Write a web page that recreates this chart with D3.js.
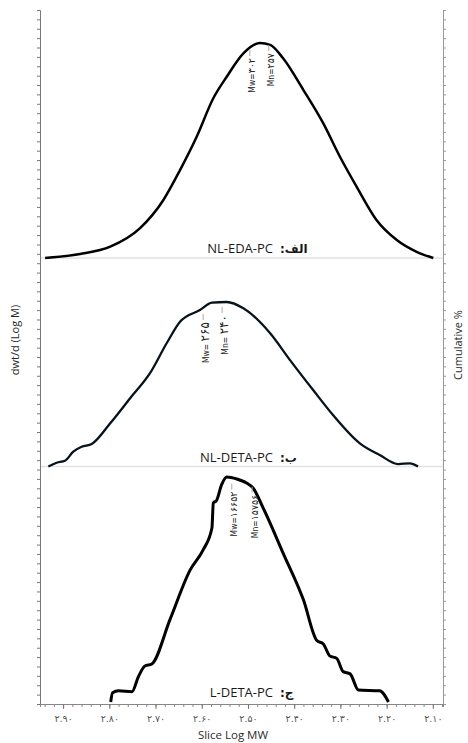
<!DOCTYPE html>
<html>
<head>
<meta charset="utf-8">
<script src="https://cdn.jsdelivr.net/npm/d3@7"></script>
<style>
body { margin: 0; background: #fff; }
text { font-family: "Open Sans", "DejaVu Sans", sans-serif; }
</style>
</head>
<body>
<div id="chart"></div>
<script>
const ctx = {
    W: 468,
    H: 743,
    LEFT: 40,
    RIGHT: 443,
    TOP: 10,
    BOTTOM: 704,
};

// x axis (Log M, runs from high to low)
const xTicks = [2.9, 2.8, 2.7, 2.6, 2.5, 2.4, 2.3, 2.2, 2.1];
const xTickLabels = ["۲.۹۰", "۲.۸۰", "۲.۷۰", "۲.۶۰", "۲.۵۰", "۲.۴۰", "۲.۳۰", "۲.۲۰", "۲.۱۰"];

// curves: [log M, height relative to the peak]
const edaCurve = [
    [2.939, 0.0], [2.863, 0.019], [2.798, 0.053], [2.734, 0.138], [2.683, 0.27],
    [2.647, 0.409], [2.611, 0.564], [2.575, 0.743], [2.546, 0.843], [2.510, 0.952],
    [2.474, 1.0], [2.452, 0.991], [2.424, 0.929], [2.380, 0.781], [2.337, 0.626],
    [2.301, 0.471], [2.265, 0.332], [2.222, 0.177], [2.178, 0.084], [2.135, 0.029],
    [2.099, 0.0]
];
const detaCurve = [
    [2.932, 0.0], [2.914, 0.023], [2.896, 0.035], [2.878, 0.09], [2.860, 0.12],
    [2.838, 0.137], [2.798, 0.263], [2.755, 0.415], [2.712, 0.567], [2.676, 0.749],
    [2.647, 0.88], [2.604, 0.951], [2.578, 0.996], [2.546, 1.0], [2.510, 0.962],
    [2.452, 0.81], [2.409, 0.647], [2.359, 0.465], [2.316, 0.313], [2.258, 0.141],
    [2.215, 0.07], [2.175, 0.015], [2.150, 0.019], [2.132, 0.0]
];
const lDetaCurve = [
    [2.797, 0.0], [2.793, 0.041], [2.780, 0.05], [2.751, 0.046], [2.737, 0.113],
    [2.723, 0.16], [2.708, 0.169], [2.669, 0.365], [2.625, 0.587], [2.597, 0.676],
    [2.578, 0.773], [2.575, 0.884], [2.568, 0.896], [2.557, 0.966], [2.546, 1.0],
    [2.524, 0.991], [2.503, 0.973], [2.489, 0.951], [2.467, 0.862], [2.424, 0.662],
    [2.380, 0.454], [2.351, 0.273], [2.337, 0.258], [2.323, 0.205], [2.308, 0.194],
    [2.294, 0.135], [2.279, 0.125], [2.261, 0.053], [2.215, 0.05], [2.196, 0.0]
];

const panelNames = ["NL-EDA-PC", "NL-DETA-PC", "L-DETA-PC"];
const panelLetters = [":الف", ":ب", ":ج"];
const mwValues = ["۳۰۲", "۲۶۵", "۱۶۶۵۲"];
const mnValues = ["۲۵۷", "۲۴۰", "۱۵۷۵۶"];
// where the Mw / Mn notes sit: log M and height of the top of the note
const mwAt = [[2.496, 0.93], [2.597, 0.878], [2.535, 0.935]];
const mnAt = [[2.455, 0.953], [2.556, 0.921], [2.491, 0.921]];

// layout of the three stacked panels (baseline and peak in px)
const panels = [
    { base: 258, peak: 43, width: 2.5, color: "#000", numSize: 9.5, prefix: "Mw=" },
    { base: 466.5, peak: 302, width: 2.3, color: "#07121c", numSize: 12, prefix: "Mw= " },
    { base: 702, peak: 477, width: 3, color: "#000", numSize: 9.5, prefix: "Mw=" },
];
const curves = [edaCurve, detaCurve, lDetaCurve];

function createViz() {
    const svg = d3.select("#chart").append("svg")
                  .attr("width", ctx.W)
                  .attr("height", ctx.H);

    const x = d3.scaleLinear().domain([2.95, 2.078]).range([ctx.LEFT, ctx.RIGHT]);

    // panel separators
    svg.append("g")
       .selectAll("line")
       .data(panels.slice(0, 2))
       .enter()
       .append("line")
       .attr("x1", ctx.LEFT).attr("x2", ctx.RIGHT)
       .attr("y1", d => d.base).attr("y2", d => d.base)
       .style("stroke", "#e2e2e2")
       .style("stroke-width", 1.5);

    // the little tick scales on the sides
    const side = d3.scaleLinear().domain([0, 74]).range([ctx.BOTTOM, ctx.TOP]);
    const leftAxis = svg.append("g")
       .attr("transform", `translate(${ctx.LEFT},0)`)
       .call(d3.axisLeft(side).tickValues(d3.range(0, 75)).tickSize(3).tickFormat(""));
    const rightAxis = svg.append("g")
       .attr("transform", `translate(${ctx.RIGHT},0)`)
       .call(d3.axisRight(side).tickValues(d3.range(0, 75)).tickSize(3).tickFormat(""));
    leftAxis.selectAll("path, line").style("stroke", "#777");
    rightAxis.selectAll("path, line").style("stroke", "#999");

    // bottom axis
    const minor = d3.range(2.94, 2.079, -0.02);
    const minorAxis = svg.append("g")
       .attr("transform", `translate(0,${ctx.BOTTOM})`)
       .call(d3.axisBottom(x).tickValues(minor).tickSize(3).tickFormat(""));
    minorAxis.selectAll("path, line").style("stroke", "#888");

    const xAxis = svg.append("g")
       .attr("transform", `translate(0,${ctx.BOTTOM})`)
       .call(d3.axisBottom(x)
               .tickValues(xTicks)
               .tickSize(5)
               .tickPadding(6)
               .tickFormat((d, i) => xTickLabels[i]));
    xAxis.select(".domain").remove();
    xAxis.selectAll("line").style("stroke", "#777");
    xAxis.selectAll("text")
         .style("font-family", "'DejaVu Sans', sans-serif")
         .style("font-size", "9.5px")
         .style("fill", "#555");

    // curves
    panels.forEach((p, i) => {
        const y = d3.scaleLinear().domain([0, 1]).range([p.base, p.peak]);
        const line = d3.line()
                       .x(d => x(d[0]))
                       .y(d => y(d[1]))
                       .curve(d3.curveMonotoneX);

        const g = svg.append("g");

        g.append("path")
         .datum(curves[i])
         .attr("d", line)
         .style("fill", "none")
         .style("stroke", p.color)
         .style("stroke-width", p.width)
         .style("stroke-linejoin", "round");

        // Mw / Mn notes
        const notes = [
            { at: mwAt[i], pre: p.prefix, num: mwValues[i] },
            { at: mnAt[i], pre: p.prefix.replace("Mw", "Mn"), num: mnValues[i] },
        ];
        notes.forEach(n => {
            const nx = x(n.at[0]), ny = y(n.at[1]);
            g.append("line")
             .attr("x1", nx).attr("x2", nx)
             .attr("y1", ny - 2).attr("y2", ny - 8)
             .style("stroke", "#aaa")
             .style("stroke-width", 1);
            const t = g.append("text")
             .attr("transform", `translate(${nx},${ny}) rotate(-90)`)
             .attr("dy", "0.35em")
             .attr("text-anchor", "end")
             .style("fill", "#222");
            t.append("tspan")
             .style("font-family", "'Liberation Sans Narrow', 'DejaVu Sans Condensed', sans-serif")
             .style("font-size", "8.5px")
             .text(n.pre);
            t.append("tspan")
             .style("font-family", "'DejaVu Sans', sans-serif")
             .style("font-size", p.numSize + "px")
             .text(n.num);
        });

        // panel title
        g.append("text")
         .attr("x", 273)
         .attr("y", p.base - 5)
         .attr("text-anchor", "end")
         .style("font-size", "13px")
         .style("fill", "#1a1a1a")
         .text(panelNames[i]);
        g.append("text")
         .attr("x", 280)
         .attr("y", p.base - 5)
         .attr("text-anchor", "start")
         .style("font-family", "'DejaVu Sans', sans-serif")
         .style("font-size", "12px")
         .style("font-weight", "bold")
         .style("fill", "#1a1a1a")
         .text(panelLetters[i]);
    });

    // axis titles
    svg.append("text")
       .attr("transform", "translate(19,340) rotate(-90)")
       .attr("text-anchor", "middle")
       .style("font-size", "11px")
       .style("fill", "#2a2a2a")
       .text("dwt/d (Log M)");

    svg.append("text")
       .attr("transform", "translate(462,345) rotate(-90)")
       .attr("text-anchor", "middle")
       .style("font-size", "11px")
       .style("fill", "#2a2a2a")
       .text("Cumulative %");

    svg.append("text")
       .attr("x", 233)
       .attr("y", 739)
       .attr("text-anchor", "middle")
       .style("font-size", "11.5px")
       .style("fill", "#2a2a2a")
       .text("Slice Log MW");
}

createViz();
</script>
</body>
</html>
